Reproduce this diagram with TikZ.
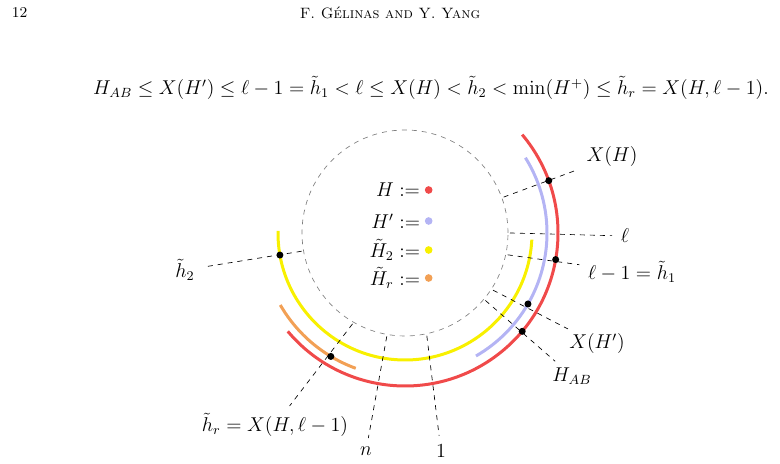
\documentclass[tikz,border=0pt]{standalone}
\usepackage{amsmath,amssymb}
\usetikzlibrary{calc}
\begin{document}
\begin{tikzpicture}[
        x=0.6pt, y=0.6pt,
        font=\large,
        band/.style={line width=1.8pt}, % the coloured arcs
        guide/.style={dashed, thin},
        dot/.style={circle, fill=black, inner sep=0pt, minimum size=4.2pt},
        lbl/.style={inner sep=1pt},
    ]
    \definecolor{cH}{HTML}{F04A4A}
    \definecolor{cHp}{HTML}{B4B4F4}
    \definecolor{cHt}{HTML}{F8F000}
    \definecolor{cHr}{HTML}{F2A055}
    \useasboundingbox (0,0) rectangle (780,464);

    % header and formula
    \node[anchor=west, font=\small] (pg) at (6,451) {12};
    \node[font=\small] (hd) at (390,451) {\textsc{F. Gélinas and Y. Yang}};
    \node (eq) at (431,376) {$H_{AB}\le X(H')\le \ell-1=\tilde h_1<\ell\le X(H)<\tilde h_2<\min(H^+)\le \tilde h_r=X(H,\ell-1).$};

    \coordinate (C) at (405,231);
    \draw[guide, gray] (C) circle[radius=103*0.6pt];

    % arcs
    \draw[band, cH]  ($(C)+(40:153)$)  arc[start angle=40,  end angle=-140, radius=153*0.6pt];
    \draw[band, cHp] ($(C)+(32:142)$)  arc[start angle=32,  end angle=-60,  radius=142*0.6pt];
    \draw[band, cHt] ($(C)+(-3:127)$)  arc[start angle=-3,  end angle=-181, radius=127*0.6pt];
    \draw[band, cHr] ($(C)+(210:144)$) arc[start angle=210, end angle=250,  radius=144*0.6pt];

    % legend
    \node[lbl, anchor=east] (lH)  at (422,274) {$H:=$};
    \node[lbl, anchor=east] (lHp) at (422,243) {$H':=$};
    \node[lbl, anchor=east] (lHt) at (422,214) {$\tilde H_2:=$};
    \node[lbl, anchor=east] (lHr) at (422,186) {$\tilde H_r:=$};
    \fill[cH]  ([xshift=4pt]lH.east)  circle (2.3pt);
    \fill[cHp] ([xshift=4pt]lHp.east) circle (2.3pt);
    \fill[cHt] ([xshift=4pt]lHt.east) circle (2.3pt);
    \fill[cHr] ([xshift=4pt]lHr.east) circle (2.3pt);

    % labels
    \node[lbl] (xh)  at (612,307) {$X(H)$};
    \node[lbl] (ell) at (625,228) {$\ell$};
    \node[lbl] (el1) at (632,192) {$\ell-1=\tilde h_1$};
    \node[lbl] (xhp) at (597,120) {$X(H')$};
    \node[lbl] (hab) at (572,88)  {$H_{AB}$};
    \node[lbl] (h2)  at (185,194) {$\tilde h_2$};
    \node[lbl] (hr)  at (275,39)  {$\tilde h_r=X(H,\ell-1)$};
    \node[lbl] (nn)  at (366,13)  {$n$};
    \node[lbl] (one) at (441,13)  {$1$};

    % dashed guides
    \foreach \a/\t in {20/xh, 0/ell, -12/el1, -33/xhp, -40/hab, 190/h2, 240/hr, 260/nn, 282/one}
        \draw[guide, shorten >=4pt] ($(C)+(\a:105)$) -- (\t);

    % marked points
    \node[dot] (d1) at ($(C)+(20:153)$) {};
    \node[dot] (d2) at ($(C)+(-10:153)$) {};
    \node[dot] (d3) at ($(C)+(-30:142)$) {};
    \node[dot] (d4) at ($(C)+(-40:153)$) {};
    \node[dot] (d5) at ($(C)+(190:127)$) {};
    \node[dot] (d6) at ($(C)+(239:144)$) {};
\end{tikzpicture}
\end{document}
